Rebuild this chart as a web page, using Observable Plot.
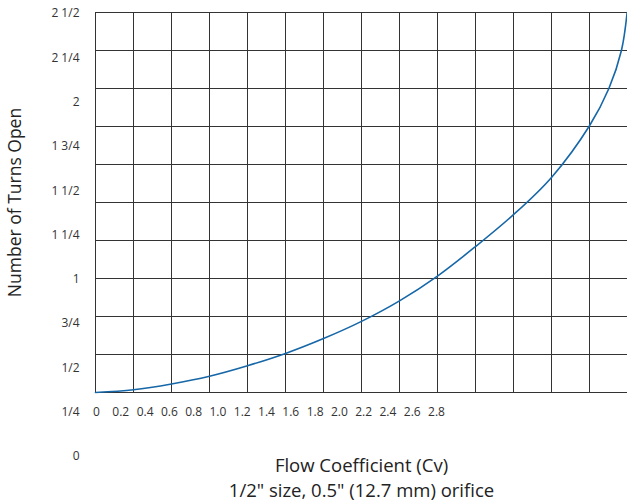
<!DOCTYPE html>
<html>
<head>
<meta charset="utf-8">
<script src="https://cdn.jsdelivr.net/npm/d3@7"></script>
<script src="https://cdn.jsdelivr.net/npm/@observablehq/plot@0.6"></script>
<style>
  html, body { margin: 0; padding: 0; background: #fff; }
  #wrap { position: relative; width: 627px; height: 504px; }
  #wrap svg { position: absolute; left: 0; top: 0; }
</style>
</head>
<body>
<div id="wrap"></div>
<script>
// Curve data: flow coefficient (Cv) vs number of turns open
const cv    = [0, 0.2, 0.4, 0.6, 0.8, 1.0, 1.2, 1.4, 1.6, 1.8, 2.0, 2.2, 2.4, 2.6, 2.702, 2.768, 2.798];
const turns = [0, 0.018, 0.056, 0.107, 0.176, 0.257, 0.355, 0.468, 0.603, 0.766, 0.96, 1.17, 1.415, 1.755, 2.0, 2.25, 2.5];

// Grid lines (Cv step 0.2, turns step 1/4)
const gridCv = [0, 0.2, 0.4, 0.6, 0.8, 1.0, 1.2, 1.4, 1.6, 1.8, 2.0, 2.2, 2.4, 2.6];
const gridTurns = [0, 0.25, 0.5, 0.75, 1, 1.25, 1.5, 1.75, 2, 2.25, 2.5];

// Tick labels as printed on the chart
const xTicks = [0, 0.2, 0.4, 0.6, 0.8, 1.0, 1.2, 1.4, 1.6, 1.8, 2.0, 2.2, 2.4, 2.6, 2.8];
const xTickLabels = ["0", "0.2", "0.4", "0.6", "0.8", "1.0", "1.2", "1.4", "1.6", "1.8", "2.0", "2.2", "2.4", "2.6", "2.8"];
const yTicks = [0, 0.25, 0.5, 0.75, 1, 1.25, 1.5, 1.75, 2, 2.25, 2.5];
const yTickLabels = ["0", "1/4", "1/2", "3/4", "1", "1 1/4", "1 1/2", "1 3/4", "2", "2 1/4", "2 1/2"];

const xTitle = "Flow Coefficient (Cv)";
const subTitle = "1/2\" size, 0.5\" (12.7 mm) orifice";
const yTitle = "Number of Turns Open";

const points = cv.map((c, i) => ({cv: c, turns: turns[i]}));
const FONT = "'Open Sans', 'DejaVu Sans', sans-serif";

// Chart A: grid, curve, titles
const chartA = Plot.plot({
  width: 627,
  height: 504,
  marginLeft: 95,
  marginRight: 0,
  marginTop: 12,
  marginBottom: 112,
  style: {fontFamily: FONT, background: "white", overflow: "visible"},
  x: {domain: [0, 2.8], axis: null},
  y: {domain: [0, 2.5], axis: null},
  marks: [
    Plot.ruleX(gridCv, {stroke: "#333", strokeWidth: 1}),
    Plot.ruleY(gridTurns, {stroke: "#333", strokeWidth: 1}),
    Plot.line(points, {x: "cv", y: "turns", stroke: "#1667a8", strokeWidth: 1.6, curve: "catmull-rom"}),
    Plot.text([xTitle], {text: d => d, frameAnchor: "bottom", dy: 74, textAnchor: "middle", lineAnchor: "middle", fontSize: 18.5, fill: "#222"}),
    Plot.text([subTitle], {text: d => d, frameAnchor: "bottom", dy: 99, textAnchor: "middle", lineAnchor: "middle", fontSize: 18.5, fill: "#222"}),
    Plot.text([yTitle], {text: d => d, frameAnchor: "left", dx: -80, rotate: -90, textAnchor: "middle", lineAnchor: "middle", fontSize: 17.5, fill: "#222"})
  ]
});

// Chart B: the printed tick labels, placed as in the original
const chartB = Plot.plot({
  width: 627,
  height: 504,
  marginLeft: 96,
  marginRight: 191,
  marginTop: 13,
  marginBottom: 103,
  style: {fontFamily: FONT, fontSize: "12px", background: "transparent", color: "#333", pointerEvents: "none"},
  x: {domain: [0, 2.8], axis: null},
  y: {domain: [0, 2.5], range: [456, 13], axis: null},
  marks: [
    Plot.axisX(xTicks, {anchor: "bottom", tickSize: 0, tickPadding: 6, tickFormat: (d, i) => xTickLabels[i], label: null, fill: "#333"}),
    Plot.axisY(yTicks, {anchor: "left", tickSize: 0, tickPadding: 17, tickFormat: (d, i) => yTickLabels[i], label: null, fill: "#333"})
  ]
});

const wrap = document.getElementById("wrap");
wrap.appendChild(chartA);
wrap.appendChild(chartB);
</script>
</body>
</html>
